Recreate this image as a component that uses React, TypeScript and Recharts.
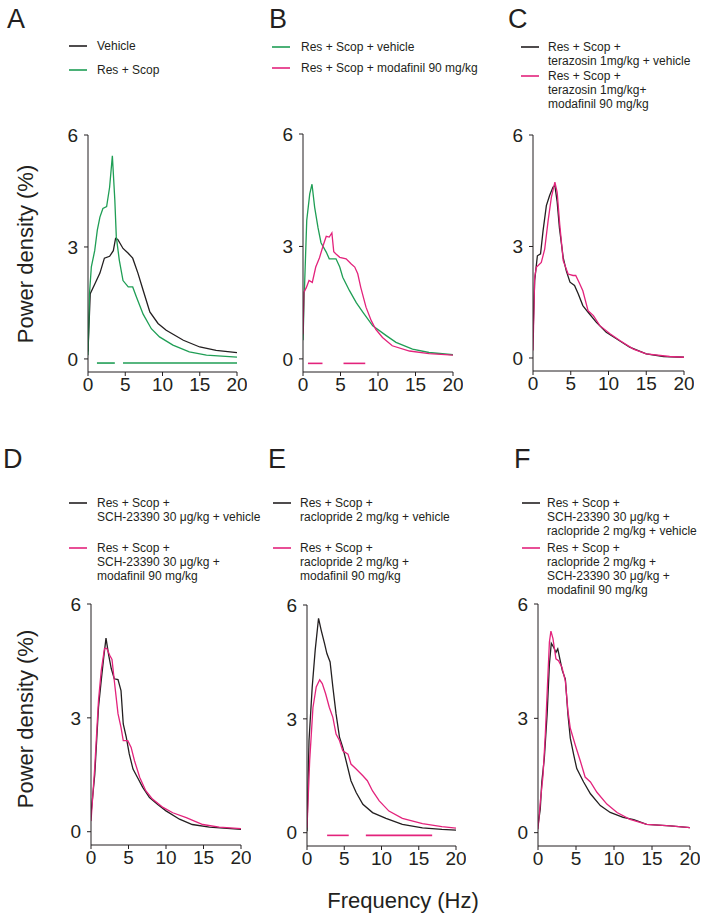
import React from 'react';
import { LineChart, Line, XAxis, YAxis, ReferenceLine } from 'recharts';

// colours
const BLACK = '#231f20';
const GREEN = '#1f9e55';
const PINK = '#e3237c';
const FONT = '"Liberation Sans", Arial, sans-serif';

// shared axis ticks
const freqTicks = [0, 5, 10, 15, 20];
const powerTicks = [0, 3, 6];

// A
const aVehHz = [0, 0.3, 0.9, 1.6, 2.2, 2.9, 3.4, 3.7, 4.0, 4.7, 5.4, 6.0, 6.7, 7.4, 8.3, 9.4, 10.5, 12.8, 15, 17.2, 20];
const aVehPd = [0.2, 1.75, 2.0, 2.3, 2.7, 2.75, 2.9, 3.23, 3.2, 2.96, 2.83, 2.7, 2.3, 1.84, 1.26, 0.95, 0.77, 0.5, 0.32, 0.23, 0.17];
const aResHz = [0, 0.2, 0.45, 0.9, 1.25, 1.6, 2.0, 2.5, 2.9, 3.27, 3.6, 3.8, 4.2, 4.7, 5.4, 6.0, 6.5, 7.4, 8.5, 9.6, 11.4, 13.6, 15.9, 20];
const aResPd = [0.1, 1.75, 2.47, 2.9, 3.45, 3.8, 4.03, 4.08, 4.6, 5.44, 4.26, 3.27, 2.65, 2.1, 1.93, 1.93, 1.66, 1.2, 0.81, 0.59, 0.37, 0.19, 0.1, 0.05];

// B
const bVehHz = [0, 0.2, 0.5, 0.9, 1.2, 1.55, 2.0, 2.4, 3.1, 3.5, 4.4, 4.9, 5.3, 6.2, 7.1, 8.0, 9.3, 11.1, 12.4, 14.6, 16.8, 20];
const bVehPd = [0.5, 1.9, 3.7, 4.4, 4.66, 4.05, 3.5, 3.1, 2.85, 2.67, 2.67, 2.45, 2.18, 1.82, 1.5, 1.24, 0.88, 0.62, 0.44, 0.26, 0.17, 0.11];
const bModHz = [0, 0.13, 0.44, 0.8, 1.24, 1.7, 2.2, 2.7, 3.1, 3.5, 3.85, 4.1, 4.4, 4.9, 5.75, 6.4, 6.9, 7.3, 7.7, 8.4, 9.1, 9.7, 10.6, 11.9, 14.2, 16.8, 20];
const bModPd = [0.66, 1.78, 1.9, 2.09, 2.04, 2.45, 2.7, 3.03, 3.27, 3.25, 3.36, 2.86, 2.8, 2.71, 2.67, 2.54, 2.45, 2.27, 1.91, 1.38, 1.02, 0.79, 0.57, 0.35, 0.21, 0.14, 0.1];

// C
const cVehHz = [0, 0.22, 0.58, 1.0, 1.33, 1.77, 2.2, 2.65, 2.9, 3.2, 3.5, 4.0, 4.4, 4.9, 5.5, 6.0, 6.6, 7.3, 8.4, 9.7, 11.1, 12.8, 15, 17.3, 20];
const cVehPd = [0.55, 2.08, 2.75, 2.8, 3.42, 4.1, 4.37, 4.6, 4.64, 4.2, 3.5, 2.7, 2.35, 2.04, 1.95, 1.72, 1.41, 1.23, 0.96, 0.69, 0.51, 0.29, 0.11, 0.04, 0.02];
const cModHz = [0, 0.22, 0.44, 1.1, 1.55, 2.0, 2.43, 2.9, 3.2, 3.54, 4.0, 4.65, 5.3, 5.66, 6.2, 6.6, 7.3, 8.0, 8.85, 10.2, 11.5, 13.3, 15, 18.1, 20];
const cModPd = [0.2, 2.17, 2.44, 2.57, 2.93, 3.69, 4.32, 4.73, 4.46, 3.6, 2.62, 2.26, 2.22, 2.22, 1.99, 1.81, 1.27, 1.14, 0.87, 0.65, 0.47, 0.24, 0.11, 0.04, 0.02];

// D
const dVehHz = [0, 0.5, 1.0, 1.37, 1.7, 2.0, 2.35, 2.7, 3.1, 3.6, 4.0, 4.3, 4.7, 5.1, 5.6, 6.2, 6.9, 7.8, 8.9, 10.0, 11.8, 13.5, 15.8, 20];
const dVehPd = [0.46, 1.5, 3.28, 3.99, 4.6, 5.1, 4.66, 4.3, 4.03, 4.01, 3.72, 2.84, 2.49, 2.05, 1.65, 1.43, 1.17, 0.9, 0.72, 0.55, 0.33, 0.19, 0.12, 0.06];
const dModHz = [0, 0.5, 1.0, 1.37, 1.8, 2.1, 2.5, 2.8, 3.1, 3.6, 4.0, 4.3, 4.9, 5.35, 5.8, 6.5, 7.3, 8.2, 9.6, 10.9, 12.7, 14.9, 17.1, 20];
const dModPd = [0.28, 1.7, 3.46, 4.25, 4.83, 4.83, 4.65, 4.54, 3.99, 3.11, 2.75, 2.4, 2.4, 2.22, 1.87, 1.43, 1.08, 0.86, 0.64, 0.5, 0.37, 0.19, 0.12, 0.08];

// E
const eVehHz = [0, 0.27, 0.7, 1.1, 1.55, 1.9, 2.35, 2.67, 3.1, 3.47, 3.9, 4.36, 4.8, 5.24, 5.9, 6.6, 7.5, 8.8, 10.6, 12.8, 15.5, 18.1, 20];
const eVehPd = [0.04, 2.43, 3.84, 4.81, 5.65, 5.34, 4.99, 4.72, 4.5, 3.84, 3.13, 2.52, 2.25, 1.9, 1.37, 1.06, 0.75, 0.53, 0.38, 0.22, 0.13, 0.09, 0.07];
const eModHz = [0, 0.36, 0.8, 1.24, 1.7, 2.05, 2.5, 3.0, 3.47, 3.9, 4.36, 4.8, 5.5, 5.9, 6.6, 7.5, 8.1, 8.8, 9.7, 11.0, 12.8, 15.5, 18.1, 20];
const eModPd = [0.13, 1.9, 3.3, 3.84, 4.03, 3.93, 3.66, 3.3, 3.04, 2.6, 2.43, 2.16, 2.07, 1.81, 1.68, 1.5, 1.37, 1.1, 0.84, 0.57, 0.38, 0.24, 0.16, 0.12];

// F
const fVehHz = [0, 0.3, 0.5, 0.83, 1.2, 1.5, 1.75, 2.05, 2.36, 2.6, 2.93, 3.2, 3.6, 3.94, 4.25, 4.7, 5.1, 6.0, 6.9, 8.2, 9.5, 11.2, 12.6, 14.3, 17.4, 20];
const fVehPd = [0.18, 0.62, 1.33, 1.95, 3.1, 4.42, 4.97, 4.87, 4.73, 4.82, 4.51, 4.25, 4.03, 3.1, 2.48, 2.04, 1.68, 1.33, 1.02, 0.71, 0.53, 0.4, 0.34, 0.22, 0.18, 0.13];
const fModHz = [0, 0.3, 0.66, 0.96, 1.27, 1.5, 1.7, 1.97, 2.36, 2.7, 3.15, 3.6, 3.94, 4.25, 4.9, 5.6, 6.2, 6.9, 7.75, 9.06, 10.4, 12.1, 14.3, 17.4, 20];
const fModPd = [0.09, 0.8, 1.5, 2.57, 3.98, 5.0, 5.29, 5.09, 4.56, 4.51, 4.34, 3.98, 3.19, 2.74, 2.3, 1.86, 1.46, 1.33, 1.06, 0.75, 0.53, 0.35, 0.22, 0.18, 0.13];

// significance bars [from Hz, to Hz]
const aSig = [[1.2, 3.6], [4.7, 20]];
const bSig = [[0.66, 2.6], [5.4, 8.3]];
const eSig = [[2.7, 5.6], [7.9, 16.8]];

const pts = (hz: number[], pd: number[]) => hz.map((f, i) => ({ f, v: pd[i] }));

type Series = { hz: number[]; pd: number[]; color: string };
type PanelProps = {
  x0: number; x1: number; yTop: number; yBot: number;
  series: Series[];
  sig?: number[][]; sigColor?: string; sigY?: number;
};

const YW = 40, XH = 30, MT = 12, MR = 10;

const Panel = ({ x0, x1, yTop, yBot, series, sig = [], sigColor = PINK, sigY = -0.12 }: PanelProps) => {
  const width = x1 - x0 + YW + MR;
  const height = yBot - yTop + MT + XH;
  return (
    <div style={{ position: 'absolute', left: x0 - YW, top: yTop - MT }}>
      <LineChart width={width} height={height} margin={{ top: MT, right: MR, bottom: 0, left: 0 }}>
        <XAxis
          type="number" dataKey="f" domain={[0, 20]} ticks={freqTicks} allowDataOverflow
          height={XH} tickSize={4} tickMargin={2} stroke={BLACK}
          tick={{ fontSize: 19, fill: BLACK, fontFamily: FONT }}
        />
        <YAxis
          type="number" dataKey="v" domain={[-0.35, 6]} ticks={powerTicks} allowDataOverflow
          width={YW} tickSize={4} tickMargin={6} stroke={BLACK}
          tick={{ fontSize: 19, fill: BLACK, fontFamily: FONT }}
        />
        {sig.map(([a, b], i) => (
          <ReferenceLine key={i} segment={[{ x: a, y: sigY }, { x: b, y: sigY }]} stroke={sigColor} strokeWidth={1.6} />
        ))}
        {series.map((s, i) => (
          <Line
            key={i} data={pts(s.hz, s.pd)} dataKey="v" type="linear" stroke={s.color}
            strokeWidth={1.3} dot={false} isAnimationActive={false}
          />
        ))}
      </LineChart>
    </div>
  );
};

type LegendItem = { color: string; lines: string[]; y: number };

const Legend = ({ lx, tx, items }: { lx: number; tx: number; items: LegendItem[] }) => (
  <g fontFamily={FONT} fontSize={12} fill={BLACK}>
    {items.map((it, i) => (
      <g key={i}>
        <line x1={lx} x2={lx + 18} y1={it.y} y2={it.y} stroke={it.color} strokeWidth={1.6} />
        {it.lines.map((t, j) => (
          <text key={j} x={tx} y={it.y + j * 14} dominantBaseline="central">{t}</text>
        ))}
      </g>
    ))}
  </g>
);

const App = () => {
  return (
    <div style={{ position: 'absolute', left: 0, top: 0, width: 708, height: 923, background: '#fff' }}>
      <Panel x0={88} x1={237} yTop={135} yBot={372} sig={aSig} sigColor={GREEN} sigY={-0.11}
        series={[{ hz: aVehHz, pd: aVehPd, color: BLACK }, { hz: aResHz, pd: aResPd, color: GREEN }]} />
      <Panel x0={303} x1={453} yTop={134} yBot={372} sig={bSig} sigColor={PINK} sigY={-0.12}
        series={[{ hz: bVehHz, pd: bVehPd, color: GREEN }, { hz: bModHz, pd: bModPd, color: PINK }]} />
      <Panel x0={533} x1={684} yTop={135} yBot={371}
        series={[{ hz: cVehHz, pd: cVehPd, color: BLACK }, { hz: cModHz, pd: cModPd, color: PINK }]} />
      <Panel x0={91} x1={241} yTop={604} yBot={845}
        series={[{ hz: dVehHz, pd: dVehPd, color: BLACK }, { hz: dModHz, pd: dModPd, color: PINK }]} />
      <Panel x0={307} x1={456} yTop={605} yBot={846} sig={eSig} sigColor={PINK} sigY={-0.07}
        series={[{ hz: eVehHz, pd: eVehPd, color: BLACK }, { hz: eModHz, pd: eModPd, color: PINK }]} />
      <Panel x0={538} x1={690} yTop={604} yBot={846}
        series={[{ hz: fVehHz, pd: fVehPd, color: BLACK }, { hz: fModHz, pd: fModPd, color: PINK }]} />

      <svg width={708} height={923} style={{ position: 'absolute', left: 0, top: 0, pointerEvents: 'none' }}>
        <g fontFamily={FONT} fontSize={27} fill={BLACK}>
          <text x={7} y={28}>A</text>
          <text x={269} y={28}>B</text>
          <text x={508} y={28}>C</text>
          <text x={3} y={468}>D</text>
          <text x={268} y={468}>E</text>
          <text x={514} y={468}>F</text>
        </g>
        <g fontFamily={FONT} fontSize={22} fill={BLACK} textAnchor="middle">
          <text x={25} y={254} transform="rotate(-90 25 254)" dominantBaseline="central">Power density (%)</text>
          <text x={25} y={719} transform="rotate(-90 25 719)" dominantBaseline="central">Power density (%)</text>
          <text x={403} y={900} dominantBaseline="central">Frequency (Hz)</text>
        </g>
        <Legend lx={69} tx={97} items={[
          { color: BLACK, lines: ['Vehicle'], y: 46 },
          { color: GREEN, lines: ['Res + Scop'], y: 70 },
        ]} />
        <Legend lx={272} tx={301} items={[
          { color: GREEN, lines: ['Res + Scop + vehicle'], y: 47 },
          { color: PINK, lines: ['Res + Scop + modafinil 90 mg/kg'], y: 68 },
        ]} />
        <Legend lx={521} tx={548} items={[
          { color: BLACK, lines: ['Res + Scop +', 'terazosin 1mg/kg + vehicle'], y: 47 },
          { color: PINK, lines: ['Res + Scop +', 'terazosin 1mg/kg+', 'modafinil 90 mg/kg'], y: 76 },
        ]} />
        <Legend lx={69} tx={97} items={[
          { color: BLACK, lines: ['Res + Scop +', 'SCH-23390 30 \u03bcg/kg + vehicle'], y: 503 },
          { color: PINK, lines: ['Res + Scop +', 'SCH-23390 30 \u03bcg/kg +', 'modafinil 90 mg/kg'], y: 548 },
        ]} />
        <Legend lx={273} tx={300} items={[
          { color: BLACK, lines: ['Res + Scop +', 'raclopride 2 mg/kg + vehicle'], y: 503 },
          { color: PINK, lines: ['Res + Scop +', 'raclopride 2 mg/kg +', 'modafinil 90 mg/kg'], y: 548 },
        ]} />
        <Legend lx={522} tx={547} items={[
          { color: BLACK, lines: ['Res + Scop +', 'SCH-23390 30 \u03bcg/kg +', 'raclopride 2 mg/kg + vehicle'], y: 503 },
          { color: PINK, lines: ['Res + Scop +', 'raclopride 2 mg/kg +', 'SCH-23390 30 \u03bcg/kg +', 'modafinil 90 mg/kg'], y: 548 },
        ]} />
      </svg>
    </div>
  );
};

export default App;
